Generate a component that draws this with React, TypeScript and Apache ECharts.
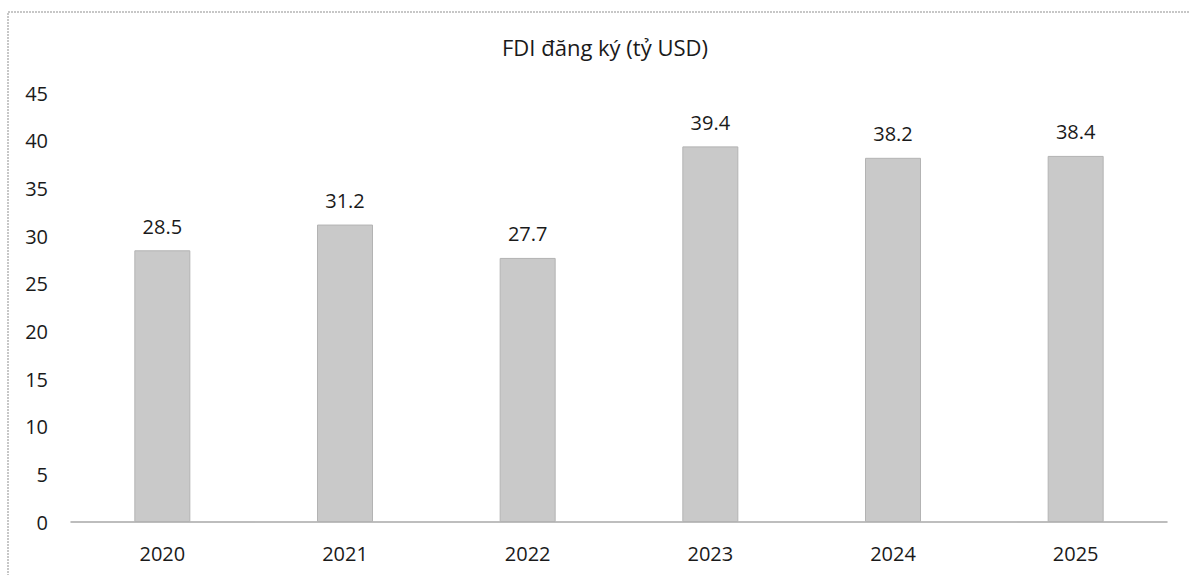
import React, { useEffect, useRef } from "react";
import * as echarts from "echarts";

const years = ["2020", "2021", "2022", "2023", "2024", "2025"];
const fdiValues = [28.5, 31.2, 27.7, 39.4, 38.2, 38.4];
const chartTitle = "FDI đăng ký (tỷ USD)";
const yMin = 0;
const yMax = 45;
const yStep = 5;

export default function App() {
  const ref = useRef<HTMLDivElement>(null);
  useEffect(() => {
    if (!ref.current) return;
    const chart = echarts.init(ref.current, undefined, { renderer: "svg" });
    const font = "'Open Sans', 'Noto Sans', sans-serif";
    chart.setOption({
      animation: false,
      backgroundColor: "#ffffff",
      title: {
        text: chartTitle,
        left: 600,
        textAlign: "center",
        top: 31,
        textStyle: { fontFamily: font, fontSize: 22, fontWeight: "normal", color: "#1a1a1a" },
      },
      graphic: [
        {
          type: "polyline",
          shape: { points: [[8, 600], [8, 12], [1200, 12]] },
          style: { stroke: "#b5b5b5", lineWidth: 1.5, fill: "none", lineDash: [2, 1] },
        },
      ],
      grid: { left: 71, right: 22, top: 93, bottom: 53, containLabel: false },
      xAxis: {
        type: "category",
        data: years,
        axisLine: { show: true, lineStyle: { color: "#a8a8a8", width: 1.5 } },
        axisTick: { show: false },
        axisLabel: { fontFamily: font, fontSize: 20, color: "#1a1a1a", margin: 21 },
      },
      yAxis: {
        type: "value",
        min: yMin,
        max: yMax,
        interval: yStep,
        axisLine: { show: false },
        axisTick: { show: false },
        splitLine: { show: false },
        axisLabel: { fontFamily: font, fontSize: 20, color: "#1a1a1a", margin: 23 },
      },
      series: [
        {
          type: "bar",
          data: fdiValues,
          barWidth: 56,
          itemStyle: { color: "#c9c9c9", borderColor: "#b3b3b3", borderWidth: 1 },
          label: {
            show: true,
            position: "top",
            distance: 14,
            fontFamily: font,
            fontSize: 20,
            color: "#1a1a1a",
            formatter: (p: any) => p.value.toFixed(1),
          },
        },
      ],
    });
    return () => chart.dispose();
  }, []);
  return (
    <div
      ref={ref}
      style={{ position: "fixed", left: 0, top: 0, width: 1189, height: 575 }}
    />
  );
}
